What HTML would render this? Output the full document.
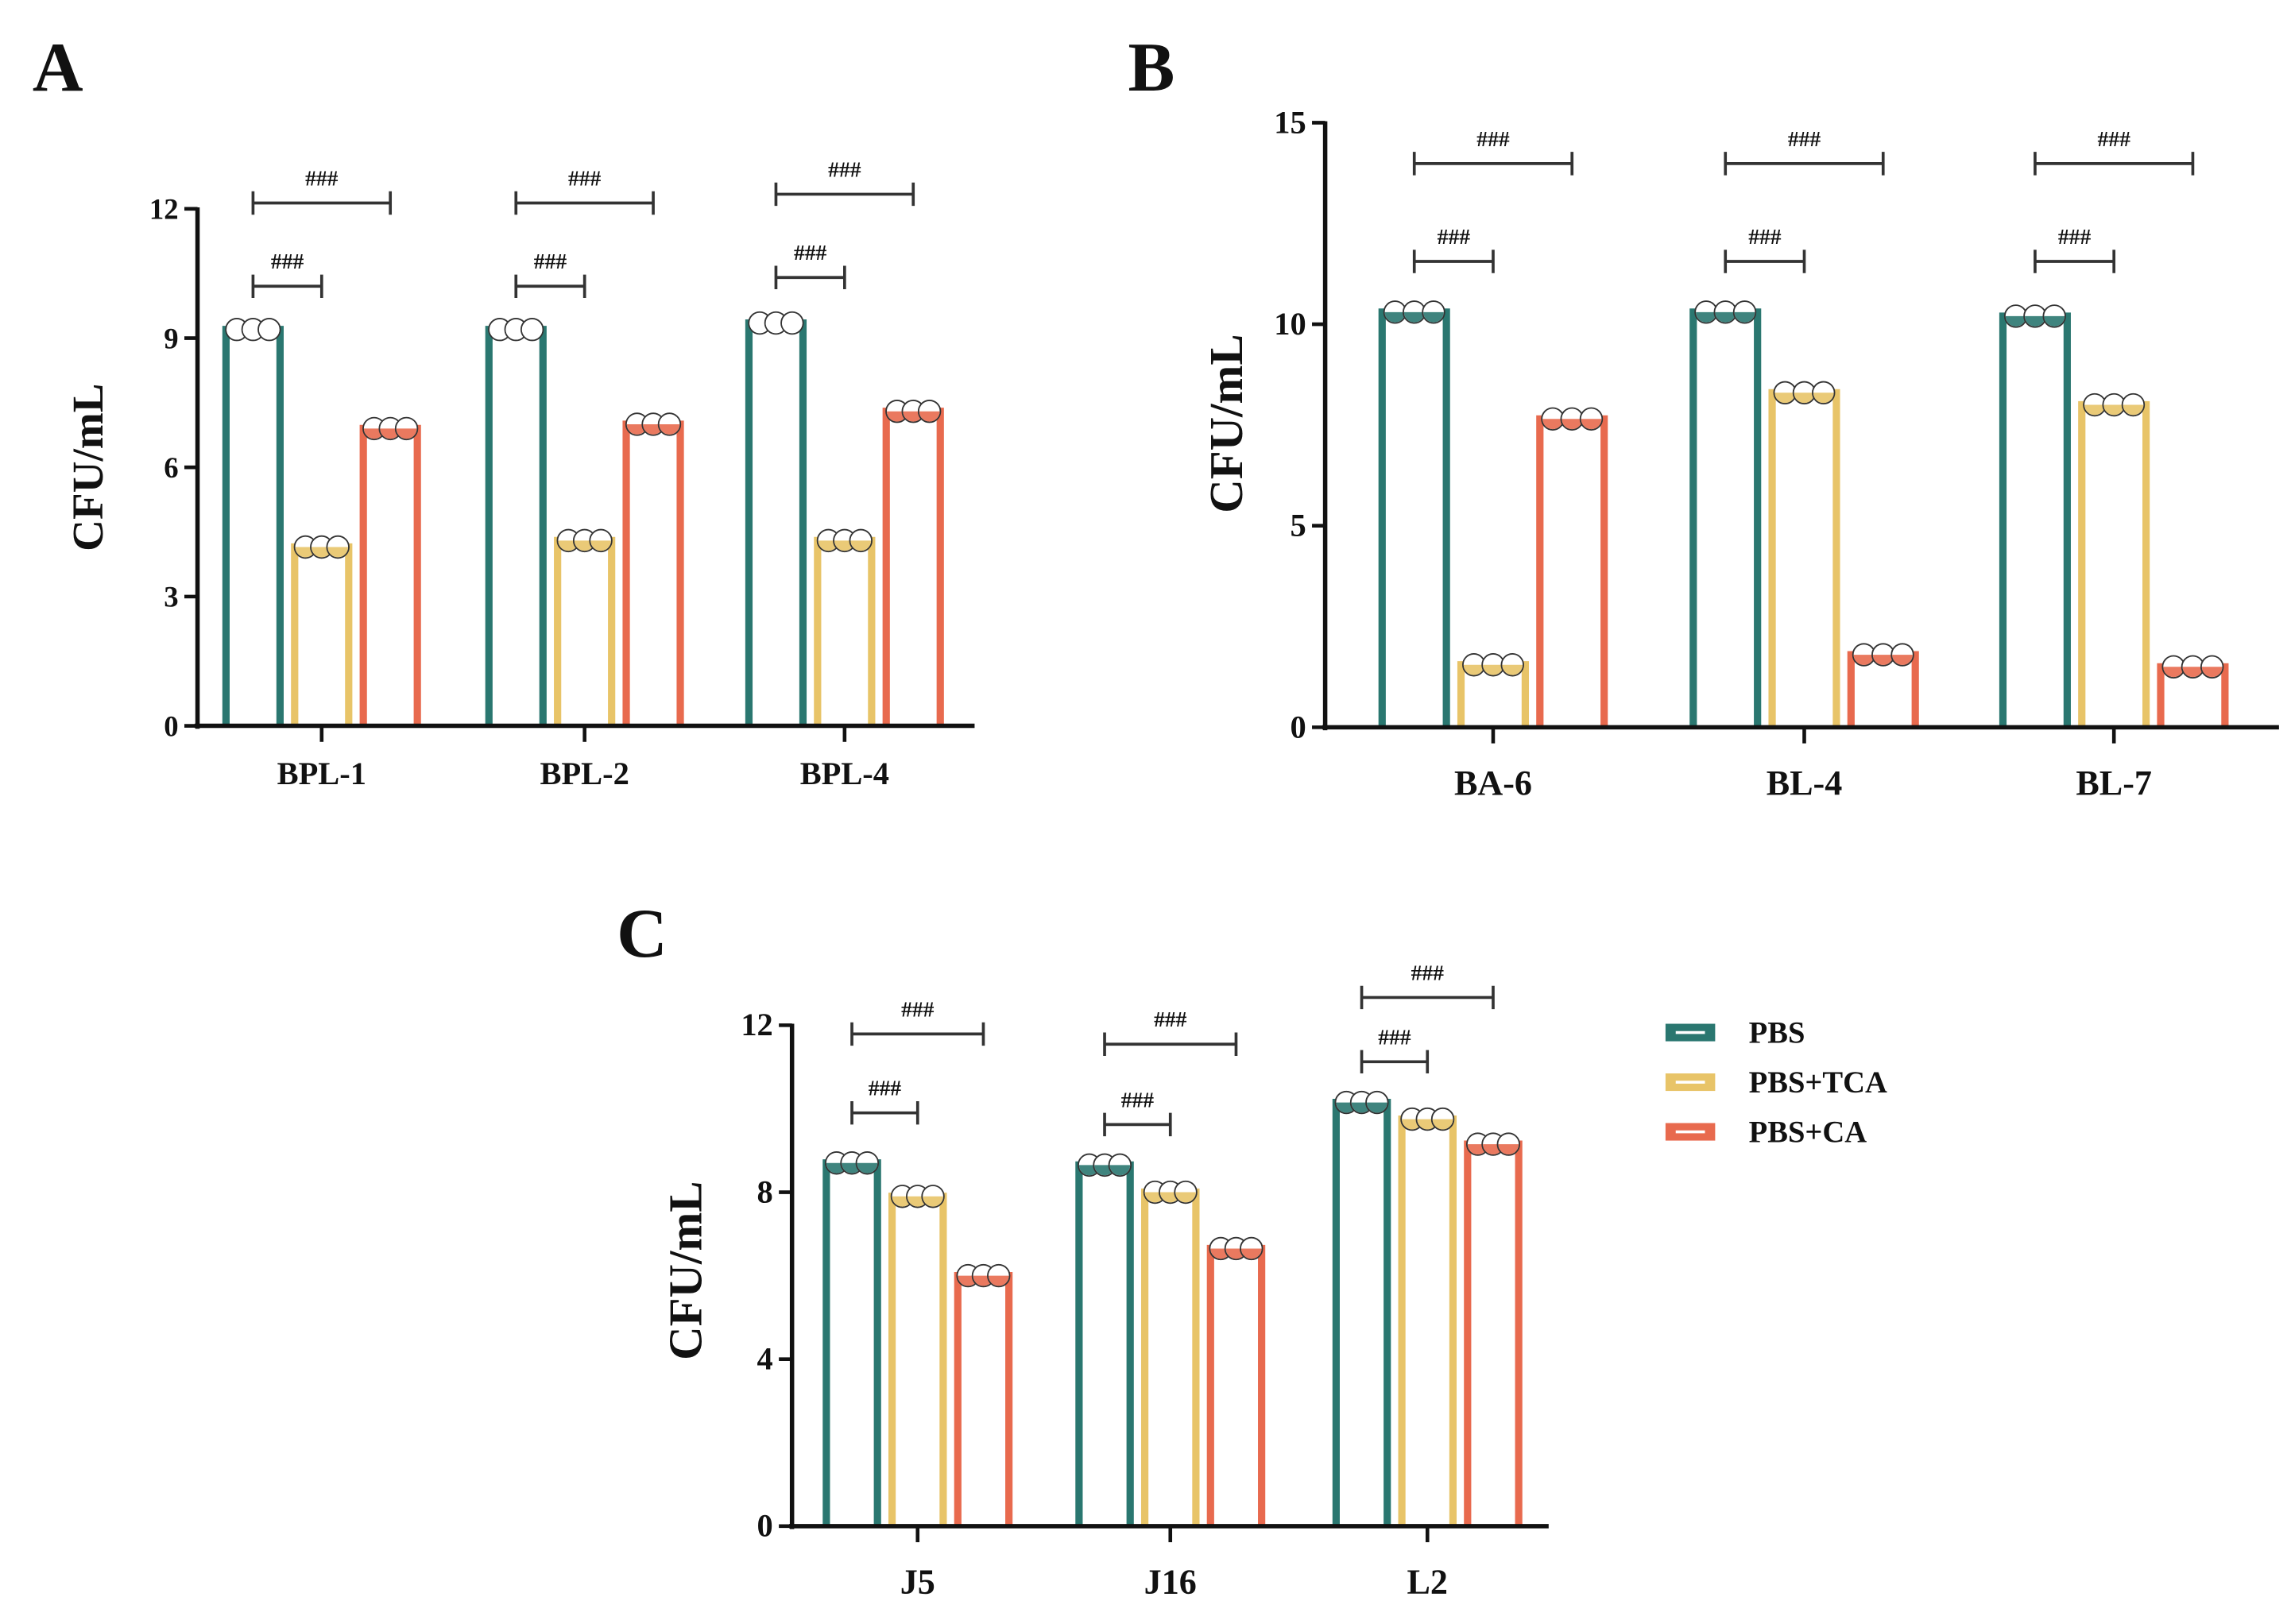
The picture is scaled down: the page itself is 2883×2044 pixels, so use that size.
<!DOCTYPE html>
<html><head><meta charset="utf-8"><style>
html,body{margin:0;padding:0;background:#fff}
svg{display:block}
text{font-family:"Liberation Serif","Times New Roman",serif;font-weight:bold;fill:#111}
</style></head><body>
<svg id="fig" width="2883" height="2044" viewBox="0 0 1568 1112" xmlns="http://www.w3.org/2000/svg"></svg>
<script>
const colors = ["#2a7770","#e8c468","#e86a4e"];
const seriesNames = ["PBS","PBS+TCA","PBS+CA"];
const catsA = ["BPL-1","BPL-2","BPL-4"];
const pbsA = [9.2, 9.2, 9.35];
const tcaA = [4.15, 4.3, 4.3];
const caA = [6.9, 7.0, 7.3];
const ticksA = [0,3,6,9,12];
const catsB = ["BA-6","BL-4","BL-7"];
const pbsB = [10.3, 10.3, 10.2];
const tcaB = [1.55, 8.3, 8.0];
const caB = [7.65, 1.8, 1.5];
const ticksB = [0,5,10,15];
const catsC = ["J5","J16","L2"];
const pbsC = [8.7, 8.65, 10.15];
const tcaC = [7.9, 8.0, 9.75];
const caC = [6.0, 6.65, 9.15];
const ticksC = [0,4,8,12];
const bracketsA = [[196,139],[196,139],[190,133]];
const bracketsB = [[179,112],[179,112],[179,112]];
const bracketsC = [[762,708],[770,715],[727,683]];

const svg = document.getElementById('fig');
const NS = "http://www.w3.org/2000/svg";
function mk(tag, attrs, parent){const e=document.createElementNS(NS,tag);for(const k in attrs)e.setAttribute(k,attrs[k]);(parent||svg).appendChild(e);return e;}

function panel(cfg){
  const g = mk('g',{});
  
  
  const ymax = cfg.ticks[cfg.ticks.length-1];
  const yS = v => cfg.y0 - (cfg.y0-cfg.yTop)*v/ymax;
  const xS = (i,s) => cfg.centers[i] + (s-1)*cfg.step;
  const L = mk('text',{x:cfg.letter[0],y:cfg.letter[1],'font-size':48},g); L.textContent=cfg.id;
  
  
  const vals=[cfg.pbs,cfg.tca,cfg.ca];
  vals.forEach((arr,s)=>arr.forEach((v,i)=>{
    const cx=xS(i,s), hw=cfg.bw/2, yt=yS(v);
    const b=mk('path',{d:`M${cx-hw},${cfg.y0} V${yt} H${cx+hw} V${cfg.y0}`,fill:'#fff',stroke:colors[s],'stroke-width':5},g);
    
    
    for(let k=-1;k<=1;k++){
      const c=mk('circle',{cx:cx+k*cfg.bw*0.3,cy:yt,r:7.5,fill:'#fff',stroke:'#333','stroke-width':1},g);
      
      
      mk('path',{d:`M${cx+k*cfg.bw*0.3-7},${yt} A7,7 0 0 0 ${cx+k*cfg.bw*0.3+7},${yt} Z`,fill:s===0&&cfg.id==='A'?'#fff':colors[s],opacity:0.9},g);
    }
  }));
  const ya=mk('line',{x1:cfg.ax,y1:cfg.yTop-1,x2:cfg.ax,y2:cfg.y0+2,stroke:'#111','stroke-width':3},g);
   
  const xa=mk('line',{x1:cfg.ax-2,y1:cfg.y0,x2:cfg.xEnd,y2:cfg.y0,stroke:'#111','stroke-width':3},g);
   
  cfg.ticks.forEach(t=>{
    mk('line',{x1:cfg.ax-9,y1:yS(t),x2:cfg.ax,y2:yS(t),stroke:'#111','stroke-width':2.5},g);
    const tx=mk('text',{x:cfg.ax-13,y:yS(t)+7,'font-size':cfg.fs,'text-anchor':'end'},g); tx.textContent=t;
     
  });
  cfg.cats.forEach((c,i)=>{
    mk('line',{x1:cfg.centers[i],y1:cfg.y0,x2:cfg.centers[i],y2:cfg.y0+11,stroke:'#111','stroke-width':2.5},g);
    const tx=mk('text',{x:cfg.centers[i],y:cfg.y0+cfg.lblOff,'font-size':cfg.fs+2,'text-anchor':'middle'},g); tx.textContent=c;
     
  });
  const yt=mk('text',{x:0,y:0,'font-size':cfg.fs+10,'text-anchor':'middle',transform:`translate(${cfg.yt[0]},${cfg.yt[1]}) rotate(-90)`},g); yt.textContent='CFU/mL';
   
  cfg.br.forEach((b,i)=>{
    [[1,b[0]],[2,b[1]]].forEach(([s,y])=>{
      const x1=xS(i,0), x2=xS(i,s);
      mk('path',{d:`M${x1},${y-8}V${y+8}M${x1},${y}H${x2}M${x2},${y-8}V${y+8}`,stroke:'#333','stroke-width':2,fill:'none'},g);
      const h=mk('text',{x:(x1+x2)/2,y:y-12,'font-size':15,'text-anchor':'middle','font-weight':'normal'},g); h.textContent='###';
       
    });
  });
}
panel({id:'A',cats:catsA,pbs:pbsA,tca:tcaA,ca:caA,ticks:ticksA,ax:135,y0:497,yTop:143,xEnd:667,centers:[220,400,578],step:47,bw:37,letter:[22,62],yt:[70,320],fs:20,lblOff:40,br:bracketsA});
panel({id:'B',cats:catsB,pbs:pbsB,tca:tcaB,ca:caB,ticks:ticksB,ax:907,y0:498,yTop:84,xEnd:1560,centers:[1022,1235,1447],step:54,bw:44,letter:[772,62],yt:[850,290],fs:22,lblOff:46,br:bracketsB});
panel({id:'C',cats:catsC,pbs:pbsC,tca:tcaC,ca:caC,ticks:ticksC,ax:542,y0:1045,yTop:702,xEnd:1060,centers:[628,801,977],step:45,bw:35,letter:[422,655],yt:[480,870],fs:22,lblOff:46,br:bracketsC});
const lg=mk('g',{});
 
seriesNames.forEach((n,s)=>{
  const y=707+s*34;
  const r=mk('rect',{x:1140,y:y-6,width:34,height:12,fill:colors[s]},lg);
   
  mk('line',{x1:1147,y1:y,x2:1167,y2:y,stroke:'#fff','stroke-width':2},lg);
  const t=mk('text',{x:1197,y:y+7,'font-size':21},lg); t.textContent=n;
   
});
</script>
</body></html>
